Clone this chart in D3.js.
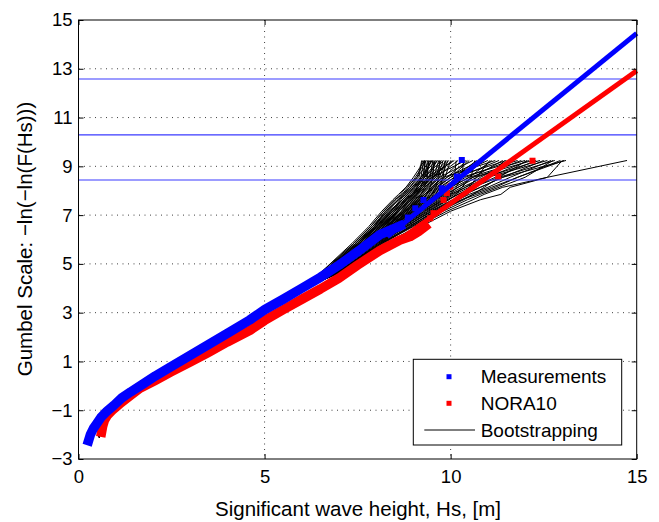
<!DOCTYPE html>
<html><head><meta charset="utf-8">
<script src="https://cdn.jsdelivr.net/npm/d3@7"></script>
<style>
body{margin:0;background:#fff}
svg{display:block}
text{font-family:"Liberation Sans",Arial,Helvetica,sans-serif;fill:#000}
</style>
</head><body>
<svg id="c" width="659" height="522"></svg>
<script>
// ---------- data ----------
const xTicks = [0, 5, 10, 15];
const yTicks = [-3, -1, 1, 3, 5, 7, 9, 11, 13, 15];
const xLabel = "Significant wave height, Hs, [m]";
const yLabel = "Gumbel Scale: −ln(−ln(F(Hs)))";
const legendLabels = ["Measurements", "NORA10", "Bootstrapping"];

// Measurements (Hs, Gumbel reduced variate)
const measHs = [0.27,0.32,0.4,0.49,0.6,0.76,0.95,1.16,1.4,1.74,2.06,2.5,3.0,3.5,4.0,4.6,5.0,5.5,6.0,6.5,7.0,7.5,8.1,8.64,8.85,9.05,9.27,9.76,10.17,10.3];
const measG  = [-2.25,-2.0,-1.75,-1.55,-1.3,-1.05,-0.8,-0.5,-0.25,0.08,0.4,0.8,1.25,1.7,2.15,2.7,3.12,3.55,4.0,4.45,4.95,5.5,6.2,6.55,6.9,7.28,7.62,8.1,8.58,9.26];
const measDense = 24; // points drawn as a continuous band

// NORA10 hindcast
const noraHs = [0.62,0.65,0.7,0.78,0.91,1.1,1.35,1.65,2.06,2.5,3.0,3.5,4.0,4.61,5.0,5.5,6.0,6.5,7.0,7.5,8.1,8.64,8.91,9.13,9.31,9.45,9.54,9.81,9.9,9.99,11.28,12.2];
const noraG  = [-1.9,-1.65,-1.4,-1.2,-1.0,-0.75,-0.45,-0.1,0.22,0.58,0.98,1.38,1.8,2.28,2.68,3.12,3.55,3.97,4.42,4.95,5.55,5.98,6.12,6.32,6.53,6.87,7.08,7.62,7.9,8.17,8.58,9.23];
const noraDense = 25;

// fitted lines
const fitMeasHs = [8.3, 15], fitMeasG = [6.12, 14.45];
const fitNoraHs = [8.3, 15], fitNoraG = [5.63, 12.92];

// return-period levels (horizontal lines)
const returnLevels = [8.44, 10.29, 12.58];

// Bootstrapping curves: Hs at common Gumbel levels
const bootLevels = [9.24, 8.55, 8.14, 7.85, 7.63, 7.16, 6.53, 5.84, 4.63];
const bootBaseHs = [6.0, 5.0, 4.0, 3.0, 2.0, 1.2, 0.8, 0.6, 0.57, 0.56];
const bootBaseG  = [3.95, 3.05, 2.1, 1.2, 0.35, -0.5, -1.0, -1.5, -1.8, -2.1];
const bootHs = [
 [9.22,9.15,8.9,8.7,8.55,8.25,7.95,7.45,6.55],
 [9.28,9.2,8.95,8.8,8.6,8.3,7.95,7.5,6.6],
 [9.33,9.25,9.05,8.85,8.7,8.35,8.0,7.5,6.6],
 [9.38,9.3,9.0,8.8,8.65,8.4,8.05,7.55,6.65],
 [9.42,9.35,9.15,8.95,8.8,8.45,8.0,7.55,6.65],
 [9.47,9.3,9.1,8.9,8.75,8.5,8.1,7.6,6.7],
 [9.52,9.45,9.2,9.0,8.85,8.5,8.1,7.6,6.7],
 [9.58,9.5,9.25,9.05,8.9,8.55,8.15,7.65,6.7],
 [9.63,9.4,9.2,9.05,8.9,8.6,8.1,7.6,6.75],
 [9.68,9.55,9.3,9.1,8.95,8.6,8.2,7.7,6.75],
 [9.74,9.6,9.35,9.15,9.0,8.65,8.2,7.7,6.75],
 [9.8,9.65,9.4,9.2,9.05,8.7,8.25,7.7,6.8],
 [9.87,9.7,9.45,9.25,9.1,8.75,8.25,7.75,6.8],
 [9.93,9.75,9.5,9.3,9.15,8.8,8.3,7.75,6.8],
 [10.0,9.85,9.55,9.35,9.2,8.85,8.35,7.8,6.85],
 [9.3,9.0,8.8,8.65,8.5,8.2,7.85,7.4,6.55],
 [9.45,9.1,8.9,8.75,8.6,8.3,7.9,7.45,6.6],
 [9.6,9.2,9.0,8.85,8.7,8.4,8.0,7.5,6.6],
 [9.75,9.3,9.1,8.95,8.8,8.45,8.05,7.55,6.65],
 [9.9,9.45,9.25,9.05,8.9,8.55,8.1,7.6,6.7],
 [10.1,9.4,9.15,9.0,8.85,8.5,8.05,7.55,6.65],
 [10.2,9.6,9.3,9.1,8.95,8.6,8.15,7.65,6.7],
 [10.3,9.8,9.5,9.3,9.1,8.75,8.25,7.7,6.75],
 [10.4,9.5,9.25,9.1,8.95,8.6,8.15,7.65,6.7],
 [10.5,10.0,9.6,9.35,9.2,8.8,8.3,7.75,6.8],
 [10.6,9.7,9.4,9.2,9.05,8.7,8.2,7.7,6.75],
 [10.7,10.1,9.7,9.45,9.25,8.85,8.35,7.8,6.8],
 [10.8,9.9,9.55,9.3,9.15,8.75,8.25,7.7,6.75],
 [10.9,10.3,9.9,9.6,9.4,8.95,8.4,7.8,6.85],
 [11.0,10.0,9.65,9.4,9.2,8.8,8.3,7.75,6.8],
 [11.1,10.5,10.0,9.7,9.5,9.0,8.45,7.85,6.85],
 [11.2,9.8,9.5,9.3,9.15,8.8,8.3,7.75,6.8],
 [11.3,10.2,9.8,9.55,9.35,8.9,8.4,7.8,6.85],
 [11.4,10.6,10.2,9.85,9.6,9.1,8.55,7.9,6.9],
 [11.5,10.1,9.75,9.5,9.3,8.9,8.35,7.8,6.8],
 [11.6,10.4,9.95,9.65,9.45,9.0,8.45,7.85,6.85],
 [11.7,10.8,10.4,10.0,9.75,9.2,8.6,7.95,6.9],
 [11.8,10.3,9.9,9.6,9.4,8.95,8.4,7.8,6.85],
 [11.9,10.7,10.2,9.9,9.65,9.15,8.55,7.9,6.9],
 [12.0,10.5,10.0,9.7,9.5,9.05,8.5,7.85,6.85],
 [12.1,11.0,10.5,10.1,9.85,9.3,8.65,8.0,6.9],
 [12.2,10.6,10.1,9.8,9.55,9.05,8.5,7.9,6.85],
 [12.3,11.2,10.6,10.2,9.95,9.4,8.75,8.05,6.95],
 [12.4,10.9,10.3,9.95,9.7,9.2,8.6,7.95,6.9],
 [12.5,11.4,10.8,10.35,10.05,9.45,8.8,8.1,6.95],
 [12.6,11.0,10.4,10.05,9.8,9.25,8.65,7.95,6.9],
 [12.7,11.6,11.0,10.5,10.2,9.55,8.9,8.15,6.95],
 [12.8,11.3,10.6,10.2,9.9,9.35,8.7,8.0,6.9],
 [12.95,11.8,11.1,10.6,10.3,9.65,8.95,8.2,7.0],
 [13.1,11.4,10.8,10.4,10.1,9.5,8.8,8.1,6.95],
 [13.0,12.6,11.4,10.9,10.6,9.9,9.1,8.25,7.0],
 [14.74,12.6,11.6,11.35,10.8,10.0,9.2,8.3,7.0],
 [13.05,11.8,11.2,10.7,10.3,9.6,8.9,8.15,6.95],
 [9.25,9.1,8.8,8.6,8.45,8.15,7.8,7.35,6.5],
 [9.35,9.05,8.85,8.7,8.5,8.2,7.85,7.4,6.5],
 [9.5,9.25,8.95,8.75,8.6,8.25,7.9,7.45,6.55],
 [9.65,9.3,9.05,8.85,8.7,8.35,7.95,7.5,6.6],
 [9.8,9.4,9.15,8.95,8.75,8.4,8.0,7.5,6.6],
 [10.05,9.5,9.2,9.0,8.8,8.45,8.0,7.55,6.6],
 [9.3,9.28,9.2,9.1,8.95,8.6,8.15,7.6,6.7],
 [9.4,9.38,9.3,9.2,9.1,8.75,8.25,7.65,6.7],
 [9.55,9.52,9.45,9.35,9.25,8.9,8.35,7.7,6.75],
 [9.7,9.68,9.6,9.5,9.35,9.0,8.45,7.75,6.8],
 [9.85,9.8,9.7,9.6,9.5,9.1,8.5,7.8,6.8],
 [10.15,10.1,9.95,9.8,9.6,9.2,8.6,7.85,6.85],
 [10.35,10.3,10.15,10.0,9.8,9.3,8.65,7.9,6.85],
 [10.65,10.55,10.3,10.15,9.95,9.4,8.7,7.95,6.9],
 [11.05,10.7,10.5,10.3,10.1,9.5,8.8,8.0,6.9],
 [11.45,11.0,10.6,10.45,10.2,9.6,8.85,8.05,6.95],
 [12.05,11.3,10.9,10.6,10.35,9.7,8.95,8.1,6.95],
 [12.75,12.0,11.3,10.8,10.45,9.8,9.0,8.15,7.0],
 [9.5,9.2,9.1,9.0,8.8,8.55,8.2,7.7,6.75],
 [9.95,9.55,9.35,9.2,9.0,8.7,8.3,7.8,6.8],
 [10.45,9.9,9.65,9.5,9.3,8.95,8.45,7.85,6.85]
];

// ---------- drawing ----------
const svg = d3.select("#c");
const L = 78.5, R = 636.7, T = 20, B = 459;
const x = d3.scaleLinear().domain([0, 15]).range([L, R]);
const y = d3.scaleLinear().domain([-3, 15]).range([B, T]);

// grid
const grid = svg.append("g").attr("stroke", "#000").attr("stroke-width", 1).attr("stroke-dasharray", "1,4.5").attr("opacity", 0.75);
xTicks.filter(v => v > 0 && v < 15).forEach(v => grid.append("line").attr("x1", x(v)).attr("x2", x(v)).attr("y1", T).attr("y2", B));
yTicks.filter(v => v > -3 && v < 15).forEach(v => grid.append("line").attr("x1", L).attr("x2", R).attr("y1", y(v)).attr("y2", y(v)));

const plot = svg.append("g");
const line = d3.line().x(d => x(d[0])).y(d => y(d[1]));

// bootstrapping
const baseTail = bootBaseHs.map((h, i) => [h, bootBaseG[i]]);
bootHs.forEach(row => {
  const pts = row.map((h, i) => [h, bootLevels[i]]).concat(baseTail);
  plot.append("path").attr("d", line(pts)).attr("fill", "none").attr("stroke", "#000").attr("stroke-width", 1);
});

// NORA10
const noraPts = noraHs.map((h, i) => [h, noraG[i]]);
plot.append("path").attr("d", line(noraPts.slice(0, noraDense)))
  .attr("fill", "none").attr("stroke", "#ff0000").attr("stroke-width", 9.5).attr("stroke-linejoin", "round").attr("stroke-linecap", "square");
plot.selectAll(".nsq").data(noraPts).enter().append("rect")
  .attr("x", d => x(d[0]) - 3).attr("y", d => y(d[1]) - 3).attr("width", 6).attr("height", 6).attr("fill", "#ff0000");

// Measurements
const measPts = measHs.map((h, i) => [h, measG[i]]);
plot.append("path").attr("d", line(measPts.slice(0, measDense)))
  .attr("fill", "none").attr("stroke", "#0000ff").attr("stroke-width", 9.5).attr("stroke-linejoin", "round").attr("stroke-linecap", "square");
plot.selectAll(".msq").data(measPts).enter().append("rect")
  .attr("x", d => x(d[0]) - 3).attr("y", d => y(d[1]) - 3).attr("width", 6).attr("height", 6).attr("fill", "#0000ff");

// return levels
returnLevels.forEach(v => plot.append("line").attr("x1", L).attr("x2", R).attr("y1", y(v)).attr("y2", y(v))
  .attr("stroke", "#3a3aff").attr("stroke-width", 1.2));

// fit lines
plot.append("path").attr("d", line(fitNoraHs.map((h, i) => [h, fitNoraG[i]]))).attr("stroke", "#ff0000").attr("stroke-width", 5).attr("fill", "none");
plot.append("path").attr("d", line(fitMeasHs.map((h, i) => [h, fitMeasG[i]]))).attr("stroke", "#0000ff").attr("stroke-width", 5).attr("fill", "none");

// axes
const fs = 18.5;
const ax = svg.append("g").attr("transform", `translate(0,${B})`).call(d3.axisBottom(x).tickValues(xTicks).tickSize(-5).tickPadding(11));
const ay = svg.append("g").attr("transform", `translate(${L},0)`).call(d3.axisLeft(y).tickValues(yTicks).tickSize(-5).tickPadding(6));
const at = svg.append("g").attr("transform", `translate(0,${T})`).call(d3.axisTop(x).tickValues(xTicks).tickSize(-5).tickFormat(""));
const ar = svg.append("g").attr("transform", `translate(${R},0)`).call(d3.axisRight(y).tickValues(yTicks).tickSize(-5).tickFormat(""));
[ax, ay, at, ar].forEach(g => { g.select(".domain").remove(); g.selectAll("line").attr("stroke", "#000"); g.selectAll("text").attr("font-size", fs).attr("font-family", null).style("fill", "#000"); });
svg.append("rect").attr("x", L).attr("y", T).attr("width", R - L).attr("height", B - T).attr("fill", "none").attr("stroke", "#000").attr("stroke-width", 1);

// labels
svg.append("text").attr("x", 358).attr("y", 516).attr("text-anchor", "middle").attr("font-size", 20.5).text(xLabel);
svg.append("text").attr("transform", `translate(32,239) rotate(-90)`).attr("text-anchor", "middle").attr("font-size", 20.5).text(yLabel);

// legend
const lg = svg.append("g");
lg.append("rect").attr("x", 413.3).attr("y", 359.3).attr("width", 208.4).attr("height", 85.7).attr("fill", "#fff").attr("stroke", "#000").attr("stroke-width", 1);
const rowsY = [376.7, 403.3, 430];
lg.append("rect").attr("x", 446.5).attr("y", rowsY[0] - 2.5).attr("width", 5).attr("height", 5).attr("fill", "#0000ff");
lg.append("rect").attr("x", 446.5).attr("y", rowsY[1] - 2.5).attr("width", 5).attr("height", 5).attr("fill", "#ff0000");
lg.append("line").attr("x1", 424.3).attr("x2", 475).attr("y1", rowsY[2]).attr("y2", rowsY[2]).attr("stroke", "#000").attr("stroke-width", 1);
legendLabels.forEach((t, i) => lg.append("text").attr("x", 480.7).attr("y", rowsY[i]).attr("dy", "0.35em").attr("font-size", 19).text(t));
</script>
</body></html>
